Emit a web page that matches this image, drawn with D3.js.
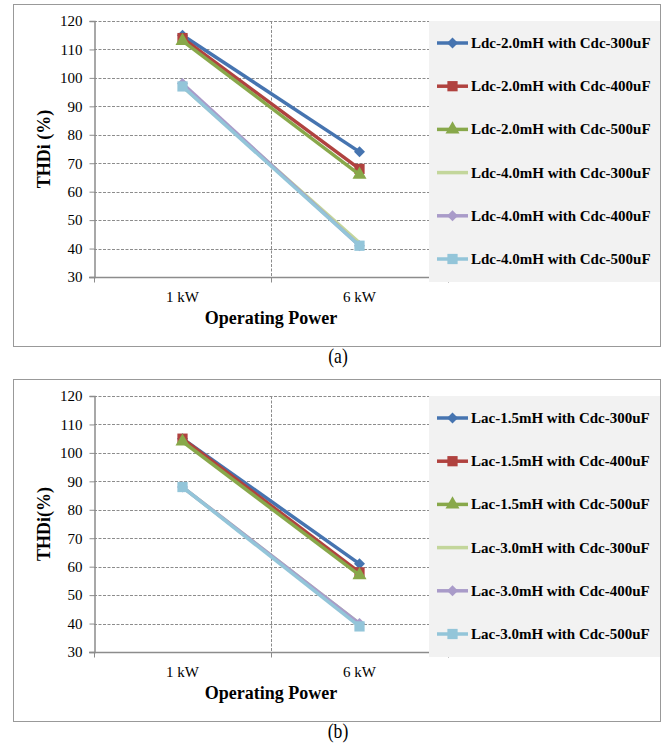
<!DOCTYPE html>
<html>
<head>
<meta charset="utf-8">
<script src="https://cdn.jsdelivr.net/npm/d3@7/dist/d3.min.js"></script>
<style>
  html, body { margin: 0; padding: 0; background: #fff; }
  svg { display: block; }
  text { font-family: "Liberation Serif", "Times New Roman", serif; fill: #000; }
</style>
</head>
<body>
<svg id="chart" width="664" height="749"></svg>
<script>
// Operating points on the x axis
const categories = ["1 kW", "6 kW"];
// Y axis ticks (THDi, %)
const yTicks = [30, 40, 50, 60, 70, 80, 90, 100, 110, 120];

// Panel (a): DC-side inductor variants
const seriesNamesA = [
  "Ldc-2.0mH with Cdc-300uF",
  "Ldc-2.0mH with Cdc-400uF",
  "Ldc-2.0mH with Cdc-500uF",
  "Ldc-4.0mH with Cdc-300uF",
  "Ldc-4.0mH with Cdc-400uF",
  "Ldc-4.0mH with Cdc-500uF"
];
const valuesA = [
  [115, 74],
  [114, 68],
  [113, 66],
  [97, 42],
  [98, 41],
  [97, 41]
];

// Panel (b): AC-side inductor variants
const seriesNamesB = [
  "Lac-1.5mH with Cdc-300uF",
  "Lac-1.5mH with Cdc-400uF",
  "Lac-1.5mH with Cdc-500uF",
  "Lac-3.0mH with Cdc-300uF",
  "Lac-3.0mH with Cdc-400uF",
  "Lac-3.0mH with Cdc-500uF"
];
const valuesB = [
  [105, 61],
  [105, 58],
  [104, 57],
  [88, 40],
  [88, 40],
  [88, 39]
];

const seriesColors = ["#4674B0", "#B0423F", "#88A84A", "#C3D69B", "#A99BC9", "#93C5D9"];
const seriesMarkers = ["diamond", "square", "triangle", "none", "diamond", "square"];

const svg = d3.select("#chart");

function markerPath(kind) {
  if (kind === "diamond") return d3.symbol().type(d3.symbolSquare).size(60)();
  if (kind === "square") return d3.symbol().type(d3.symbolSquare).size(105)();
  if (kind === "triangle") return d3.symbol().type(d3.symbolTriangle).size(85)();
  return null;
}
function markerTransform(kind, x, y) {
  return kind === "diamond" ? `translate(${x},${y}) rotate(45)` : `translate(${x},${y})`;
}

function drawPanel(top, names, values, yTitle, caption) {
  const g = svg.append("g").attr("transform", `translate(0,${top})`);

  // outer frame
  g.append("rect")
    .attr("x", 13.5).attr("y", 0.5)
    .attr("width", 647).attr("height", 342)
    .attr("fill", "#fff").attr("stroke", "#999").attr("stroke-width", 1);

  const x = d3.scaleBand().domain(categories).range([94, 448]).padding(0);
  const y = d3.scaleLinear().domain([30, 120]).range([273, 17]);

  // horizontal gridlines
  g.append("g").selectAll("line")
    .data(yTicks.filter(t => t > 30))
    .join("line")
    .attr("x1", 94).attr("x2", 448)
    .attr("y1", d => Math.round(y(d)) + 0.5).attr("y2", d => Math.round(y(d)) + 0.5)
    .attr("stroke", "#8c8c8c").attr("stroke-width", 1).attr("stroke-dasharray", "3,1.5");

  // vertical gridlines at category boundaries
  g.append("g").selectAll("line")
    .data(categories.slice(1))
    .join("line")
    .attr("x1", d => Math.round(x(d)) + 0.5).attr("x2", d => Math.round(x(d)) + 0.5)
    .attr("y1", y(120)).attr("y2", y(30))
    .attr("stroke", "#8c8c8c").attr("stroke-width", 1).attr("stroke-dasharray", "3,1.5");

  // y axis
  const yAxis = g.append("g")
    .attr("transform", "translate(94.5,0)")
    .call(d3.axisLeft(y).tickValues(yTicks).tickSize(5).tickPadding(7));
  yAxis.attr("font-family", null);
  yAxis.select(".domain").attr("stroke", "#8c8c8c").attr("stroke-width", 1.5);
  yAxis.selectAll(".tick line").attr("stroke", "#8c8c8c");
  yAxis.selectAll(".tick text")
    .style("font-family", "Liberation Serif, serif")
    .style("font-size", "15px").attr("fill", "#000");

  // x axis
  const xAxis = g.append("g")
    .attr("transform", `translate(0,${Math.round(y(30)) + 0.5})`)
    .call(d3.axisBottom(x).tickSize(0).tickPadding(14));
  xAxis.attr("font-family", null);
  xAxis.select(".domain").attr("stroke", "#8c8c8c").attr("stroke-width", 1.5)
    .attr("d", "M89,0H448");
  xAxis.selectAll(".tick text")
    .style("font-family", "Liberation Serif, serif")
    .style("font-size", "15px").attr("fill", "#000");
  // tick marks at category boundaries
  const bounds = [x.range()[0]].concat(categories.map(c => x(c) + x.bandwidth()));
  xAxis.append("g").selectAll("line").data(bounds).join("line")
    .attr("x1", d => Math.round(d) + 0.5).attr("x2", d => Math.round(d) + 0.5)
    .attr("y1", 0).attr("y2", 5).attr("stroke", "#8c8c8c");

  // axis titles
  g.append("text")
    .attr("transform", `translate(50,${(y(120) + y(30)) / 2}) rotate(-90)`)
    .attr("text-anchor", "middle")
    .style("font-size", "18px").style("font-weight", "bold")
    .text(yTitle);
  g.append("text")
    .attr("x", (x.range()[0] + x.range()[1]) / 2).attr("y", 320)
    .attr("text-anchor", "middle")
    .style("font-size", "18px").style("font-weight", "bold")
    .text("Operating Power");

  // series lines and markers
  const cx = c => x(c) + x.bandwidth() / 2;
  const line = d3.line().x((d, i) => cx(categories[i])).y(d => y(d));
  names.forEach((name, s) => {
    const sg = g.append("g");
    sg.append("path")
      .attr("d", line(values[s]))
      .attr("fill", "none")
      .attr("stroke", seriesColors[s]).attr("stroke-width", 3.5)
      .attr("stroke-linejoin", "round");
    const m = seriesMarkers[s];
    if (m !== "none") {
      sg.selectAll("path.mk").data(values[s]).join("path")
        .attr("class", "mk")
        .attr("d", markerPath(m))
        .attr("transform", (d, i) => markerTransform(m, cx(categories[i]), y(d)))
        .attr("fill", seriesColors[s]);
    }
  });

  // legend
  const lg = g.append("g").attr("transform", "translate(429,17)");
  lg.append("rect").attr("width", 231).attr("height", 261).attr("fill", "#f2f2f2");
  names.forEach((name, s) => {
    const ry = 22 + s * 43.2;
    lg.append("line")
      .attr("x1", 8).attr("x2", 39).attr("y1", ry).attr("y2", ry)
      .attr("stroke", seriesColors[s]).attr("stroke-width", 3.5);
    const m = seriesMarkers[s];
    if (m !== "none") {
      lg.append("path")
        .attr("d", markerPath(m))
        .attr("transform", markerTransform(m, 23.5, ry))
        .attr("fill", seriesColors[s]);
    }
    lg.append("text")
      .attr("x", 42).attr("y", ry + 5)
      .style("font-size", "15px").style("font-weight", "bold")
      .text(name);
  });

  // caption below the frame
  g.append("text")
    .attr("transform", "translate(338,359) scale(0.88,1)")
    .attr("text-anchor", "middle")
    .style("font-size", "20px")
    .text(caption);
}

drawPanel(4, seriesNamesA, valuesA, "THDi (%)", "(a)");
drawPanel(379, seriesNamesB, valuesB, "THDi(%)", "(b)");
</script>
</body>
</html>
